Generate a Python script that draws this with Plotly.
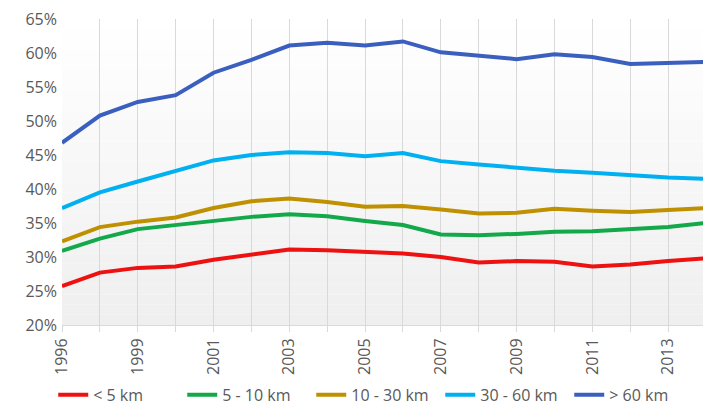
import plotly.graph_objects as go

years = ["1996", "1998", "1999", "2000", "2001", "2002", "2003", "2004", "2005",
         "2006", "2007", "2008", "2009", "2010", "2011", "2012", "2013", "2014"]
tick_labels = ["1996", "", "1999", "", "2001", "", "2003", "", "2005",
               "", "2007", "", "2009", "", "2011", "", "2013", ""]

lt5 = [25.7, 27.7, 28.4, 28.6, 29.6, 30.3, 31.1, 31.0, 30.7, 30.5, 30.0, 29.2, 29.4, 29.3, 28.6, 28.9, 29.4, 29.8]
s5_10 = [30.9, 32.7, 34.1, 34.7, 35.4, 35.9, 36.3, 36.0, 35.3, 34.7, 33.3, 33.2, 33.4, 33.7, 33.8, 34.1, 34.4, 35.0]
s10_30 = [32.3, 34.4, 35.2, 35.8, 37.2, 38.2, 38.6, 38.1, 37.4, 37.5, 37.0, 36.4, 36.5, 37.1, 36.8, 36.6, 36.9, 37.2]
s30_60 = [37.2, 39.5, 41.1, 42.6, 44.2, 45.0, 45.4, 45.3, 44.8, 45.3, 44.1, 43.6, 43.1, 42.7, 42.4, 42.0, 41.7, 41.5]
gt60 = [46.8, 50.8, 52.8, 53.8, 57.1, 59.0, 61.1, 61.5, 61.1, 61.7, 60.1, 59.6, 59.1, 59.8, 59.4, 58.4, 58.5, 58.7]

series = [
    ("< 5 km", lt5, "#ee1111"),
    ("5 - 10 km", s5_10, "#13a84a"),
    ("10 - 30 km", s10_30, "#bf9000"),
    ("30 - 60 km", s30_60, "#00b0f0"),
    ("> 60 km", gt60, "#3a5fbf"),
]

fig = go.Figure()
for name, vals, color in series:
    fig.add_trace(go.Scatter(x=years, y=vals, name=name, mode="lines",
                             line=dict(color=color, width=4), cliponaxis=False))

# gradient background for the plot area
n = 30
shapes = []
for i in range(n):
    t = i / (n - 1)
    g = int(round(255 - 16 * t))
    shapes.append(dict(type="rect", xref="x domain", yref="y domain",
                       x0=0, x1=1, y0=1 - (i + 1) / n, y1=1 - i / n,
                       fillcolor=f"rgb({g},{g},{g})", line=dict(width=0),
                       layer="below"))

# the page body has an 8px default margin, so the figure is 8px smaller
font_family = "Open Sans, Noto Sans, sans-serif"
fig.update_layout(
    width=703, height=404,
    margin=dict(l=54, r=5, t=11, b=87, autoexpand=False),
    paper_bgcolor="white",
    plot_bgcolor="rgba(0,0,0,0)",
    shapes=shapes,
    showlegend=True,
    legend=dict(orientation="h", x=-0.0136, xanchor="left", y=-0.284, yanchor="bottom",
                font=dict(size=16, color="#595959", family=font_family),
                entrywidth=84, tracegroupgap=0),
    font=dict(family=font_family, color="#595959", size=16),
)
fig.update_xaxes(type="category", tickmode="array", tickvals=years, ticktext=tick_labels,
                 tickangle=-90, range=[0, len(years) - 1], automargin=False,
                 showgrid=True, gridcolor="#d9d9d9", gridwidth=1,
                 ticks="outside", ticklen=6, tickcolor="#d9d9d9",
                 showline=True, linecolor="#d9d9d9", linewidth=1,
                 tickfont=dict(size=16, color="#595959"))
fig.update_yaxes(range=[20, 65], dtick=5, ticksuffix="%", showgrid=False,
                 zeroline=False, showline=False, ticklabelstandoff=4, automargin=False,
                 ticklabeloverflow="allow",
                 tickfont=dict(size=16, color="#595959"))

fig.write_html("out.html")
